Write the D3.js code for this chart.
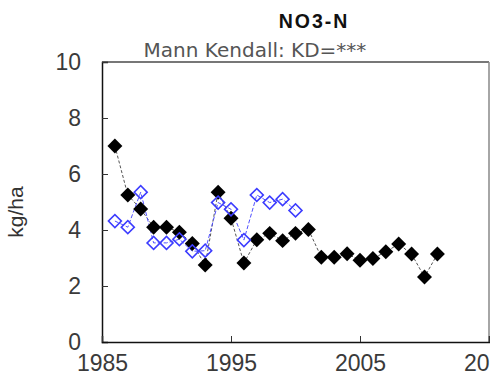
<!DOCTYPE html>
<html>
<head>
<meta charset="utf-8">
<script src="https://cdn.jsdelivr.net/npm/d3@7"></script>
<style>
  body { margin: 0; background: #fff; }
  svg { display: block; }
  .axis text { font-family: "Liberation Sans", Arial, sans-serif; font-size: 23px; fill: #3a3a3a; }
</style>
</head>
<body>
<div id="chart"></div>
<script>
(function() {
  // measured series, kg/ha per year
  var blackYears = [1986, 1987, 1988, 1989, 1990, 1991, 1992, 1993, 1994, 1995, 1996, 1997, 1998,
    1999, 2000, 2001, 2002, 2003, 2004, 2005, 2006, 2007, 2008, 2009, 2010, 2011]
  var blackValues = [7.0, 5.25, 4.75, 4.1, 4.1, 3.92, 3.52, 2.75, 5.35, 4.42, 2.82, 3.65, 3.88,
    3.62, 3.88, 4.02, 3.03, 3.03, 3.15, 2.92, 2.98, 3.22, 3.5, 3.14, 2.32, 3.14]
  var blueYears = [1986, 1987, 1988, 1989, 1990, 1991, 1992, 1993, 1994, 1995, 1996, 1997, 1998, 1999, 2000]
  var blueValues = [4.32, 4.1, 5.35, 3.54, 3.54, 3.67, 3.24, 3.26, 4.98, 4.74, 3.64, 5.25, 4.98, 5.1, 4.7]
  var yTicks = [0, 2, 4, 6, 8, 10]
  var xTicks = [1985, 1995, 2005, 2015]

  var width = 490
  var height = 378
  var left = 102, right = 489, top = 62, bottom = 342

  var svg = d3.select('#chart').append('svg')
    .attr('width', width)
    .attr('height', height)

  var x = d3.scaleLinear().domain([1985, 2015]).range([left, right])
  var y = d3.scaleLinear().domain([0, 10]).range([bottom, top])

  // frame: top and right grey, left and bottom black
  svg.append('line').attr('x1', left).attr('x2', right).attr('y1', top).attr('y2', top)
    .attr('stroke', '#777').attr('stroke-width', 2)
  svg.append('line').attr('x1', right).attr('x2', right).attr('y1', top).attr('y2', bottom)
    .attr('stroke', '#888').attr('stroke-width', 1.5)

  var yAxis = d3.axisLeft(y).tickValues(yTicks).tickSize(-6).tickPadding(21)
  svg.append('g').attr('class', 'axis')
    .attr('transform', 'translate(' + left + ',0)')
    .call(yAxis)
    .call(function(g) {
      g.select('.domain').attr('stroke', '#111').attr('stroke-width', 1.5)
      g.selectAll('.tick line').attr('stroke', '#333')
    })

  var xAxis = d3.axisBottom(x).tickValues(xTicks).tickFormat(d3.format('d')).tickSize(-6).tickPadding(13)
  svg.append('g').attr('class', 'axis')
    .attr('transform', 'translate(0,' + bottom + ')')
    .call(xAxis)
    .call(function(g) {
      g.select('.domain').attr('stroke', '#111').attr('stroke-width', 1.5)
      g.selectAll('.tick line').attr('stroke', '#333')
    })

  var black = blackYears.map(function(yr, i) { return {year: yr, value: blackValues[i]} })
  var blue = blueYears.map(function(yr, i) { return {year: yr, value: blueValues[i]} })

  var line = d3.line()
    .x(function(d) { return x(d.year) })
    .y(function(d) { return y(d.value) })

  svg.append('path').datum(black)
    .attr('d', line)
    .attr('fill', 'none')
    .attr('stroke', '#555')
    .attr('stroke-width', 1)
    .attr('stroke-dasharray', '3,2')

  svg.append('path').datum(blue)
    .attr('d', line)
    .attr('fill', 'none')
    .attr('stroke', '#5050ff')
    .attr('stroke-width', 1)
    .attr('stroke-dasharray', '4,2')

  var diamond = d3.symbol().type(d3.symbolSquare).size(112)
  var openDiamond = d3.symbol().type(d3.symbolSquare).size(84)

  svg.append('g').selectAll('path')
    .data(black)
    .join('path')
    .attr('d', diamond)
    .attr('transform', function(d) { return 'translate(' + x(d.year) + ',' + y(d.value) + ') rotate(45)' })
    .attr('fill', '#000')

  svg.append('g').selectAll('path')
    .data(blue)
    .join('path')
    .attr('d', openDiamond)
    .attr('transform', function(d) { return 'translate(' + x(d.year) + ',' + y(d.value) + ') rotate(45)' })
    .attr('fill', 'none')
    .attr('stroke', '#3c3cff')
    .attr('stroke-width', 1.6)

  svg.append('text')
    .attr('x', 314)
    .attr('y', 28)
    .attr('text-anchor', 'middle')
    .style('font-family', '"Liberation Sans", Arial, sans-serif')
    .style('font-size', '19.5px')
    .style('font-weight', 'bold')
    .style('letter-spacing', '2px')
    .attr('fill', '#111')
    .text('NO3-N')

  svg.append('text')
    .attr('x', 255)
    .attr('y', 57)
    .attr('text-anchor', 'middle')
    .style('font-family', '"DejaVu Sans", Verdana, sans-serif')
    .style('font-size', '20px')
    .attr('fill', '#555')
    .text('Mann Kendall: KD=***')

  svg.append('text')
    .attr('transform', 'translate(23,212) rotate(-90)')
    .attr('text-anchor', 'middle')
    .style('font-family', '"Liberation Sans", Arial, sans-serif')
    .style('font-size', '21px')
    .attr('fill', '#333')
    .text('kg/ha')
})()
</script>
</body>
</html>
